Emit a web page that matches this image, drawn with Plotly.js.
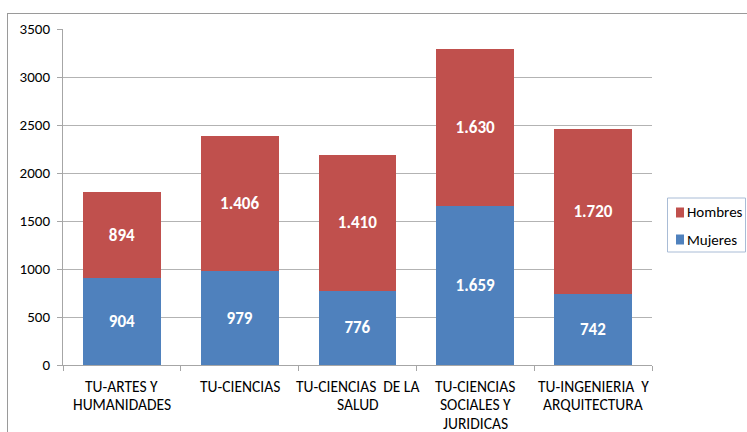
<!DOCTYPE html>
<html><head><meta charset="utf-8">
<script src="https://cdn.plot.ly/plotly-3.0.1.min.js"></script>
<style>
html,body{margin:0;padding:0;background:#fff;overflow:hidden;}
#frame{position:absolute;left:7px;top:13px;width:800px;height:500px;border:1px solid #9a9a9a;box-sizing:border-box;}
#chart{position:absolute;left:0;top:0;width:747px;height:432px;}
</style></head>
<body>
<div id="frame"></div>
<div id="chart"></div>
<script>
const categories = ["TU-ARTES Y<br>HUMANIDADES", "TU-CIENCIAS", "TU-CIENCIAS  DE LA<br>SALUD", "TU-CIENCIAS<br>SOCIALES Y<br>JURIDICAS", "TU-INGENIERIA  Y<br>ARQUITECTURA"];
const mujeres = [904, 979, 776, 1659, 742];
const hombres = [894, 1406, 1410, 1630, 1720];
const yTicks = [0, 500, 1000, 1500, 2000, 2500, 3000, 3500];
const seriesNames = ["Mujeres", "Hombres"];
const seriesColors = ["#4F81BD", "#C0504D"];

const FONT = "Carlito, Calibri, 'Liberation Sans Narrow', 'Liberation Sans', sans-serif";
const fmt = v => v >= 1000 ? Math.floor(v/1000) + "." + String(v%1000).padStart(3, "0") : String(v);
const idx = categories.map((c, i) => i);
const seriesData = [mujeres, hombres];

const traces = seriesData.map((d, k) => ({
  type: "bar", name: seriesNames[k], x: idx, y: d, marker: {color: seriesColors[k]},
  text: d.map(fmt), textposition: "inside", insidetextanchor: "middle", constraintext: "none",
  textfont: {family: FONT, size: 17, color: "#fff", weight: "bold"}, hoverinfo: "y", showlegend: false
}));

// plot area in pixels: x 63..652, y 29..365
const PL = 63, PR = 652, PT = 29, PB = 365;
const px = v => (v - PL) / (PR - PL);
const py = v => (PB - v) / (PB - PT);

const annotations = [];
categories.forEach((c, i) => {
  c.split("<br>").forEach((line, j) => {
    annotations.push({x: i, y: 0, xref: "x", yref: "paper", yshift: -21 - 18.5*j, text: line,
      showarrow: false, xanchor: "center", yanchor: "middle",
      font: {family: FONT, size: 15.5, color: "#000"}});
  });
});

// custom legend (reversed order: Hombres on top)
const shapes = [{type: "rect", xref: "paper", yref: "paper", x0: px(667.5), x1: px(745.5), y0: py(198), y1: py(252),
  line: {color: "#a9bcd6", width: 1}, fillcolor: "rgba(0,0,0,0)"}];
[1, 0].forEach((k, r) => {
  const cy = 212.5 + 27 * r;
  shapes.push({type: "rect", xref: "paper", yref: "paper", x0: px(676), x1: px(684), y0: py(cy + 5), y1: py(cy - 5),
    line: {width: 0}, fillcolor: seriesColors[k]});
  annotations.push({xref: "paper", yref: "paper", x: px(685), y: py(cy), xanchor: "left", yanchor: "middle",
    text: seriesNames[k], showarrow: false, font: {family: FONT, size: 15, color: "#000"}});
});

const layout = {
  width: 747, height: 432,
  margin: {l: PL, r: 747 - PR, t: PT, b: 432 - PB},
  paper_bgcolor: "rgba(0,0,0,0)", plot_bgcolor: "rgba(0,0,0,0)",
  barmode: "stack", bargap: 0.34,
  font: {family: FONT, size: 12, color: "#000"},
  xaxis: {type: "linear", range: [-0.5, 4.5], tickvals: [-0.5, 0.5, 1.5, 2.5, 3.5, 4.5], showticklabels: false,
    ticks: "outside", ticklen: 5, tickcolor: "#a6a6a6", showgrid: false, zeroline: false,
    showline: true, linecolor: "#a6a6a6", linewidth: 1},
  yaxis: {range: [0, 3500], tickvals: yTicks, ticks: "outside", ticklen: 5, tickcolor: "#a6a6a6",
    showgrid: true, gridcolor: "#b3b3b3", gridwidth: 1, zeroline: false,
    showline: true, linecolor: "#a6a6a6", linewidth: 1,
    tickfont: {family: FONT, size: 15, color: "#000"}, ticklabelstandoff: 4},
  annotations: annotations,
  shapes: shapes,
  showlegend: false
};

Plotly.newPlot("chart", traces, layout, {displayModeBar: false, staticPlot: true});
</script>
</body></html>
